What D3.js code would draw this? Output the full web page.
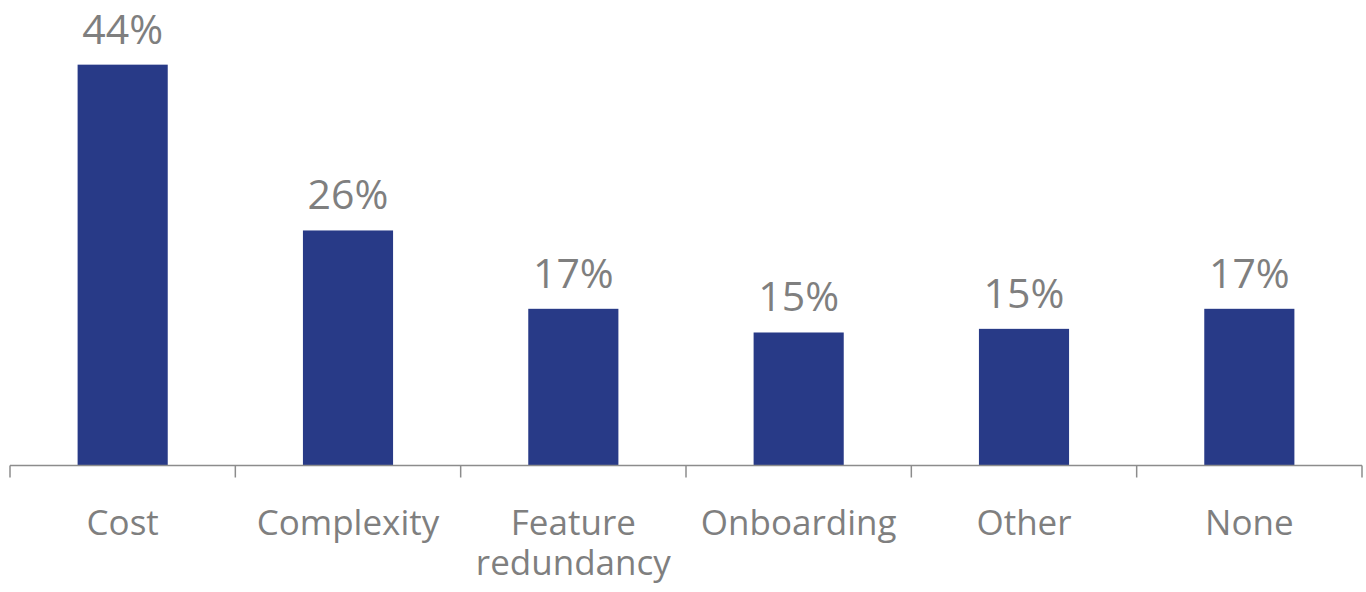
<!DOCTYPE html>
<html>
<head>
<meta charset="utf-8">
<script src="https://cdn.jsdelivr.net/npm/d3@7"></script>
<style>
	body { margin: 0; background: #fff; }
	#chart text { font-family: "Open Sans", "Noto Sans", sans-serif; fill: #7f7f7f; }
</style>
</head>
<body>
<div id="chart"></div>
<script>
const categories = ['Cost', 'Complexity', 'Feature redundancy', 'Onboarding', 'Other', 'None']
const values = [0.44, 0.258, 0.172, 0.146, 0.150, 0.172]
const value_labels = ['44%', '26%', '17%', '15%', '15%', '17%']

const width = 1366, height = 592
const margin = {top: 10, right: 4, bottom: 126.5, left: 10}
const baseline = height - margin.bottom

const x = d3.scaleBand()
	.domain(categories)
	.range([margin.left, width - margin.right])
	.paddingInner(0.6)
	.paddingOuter(0.3)
const y = d3.scaleLinear().domain([0, 0.5]).range([baseline, margin.top])

const svg = d3.select('#chart').append('svg')
	.attr('width', width)
	.attr('height', height)

// bars
svg.selectAll('rect.bar')
	.data(categories)
	.enter().append('rect')
	.attr('class', 'bar')
	.attr('x', d => x(d))
	.attr('width', x.bandwidth())
	.attr('y', (d, i) => y(values[i]))
	.attr('height', (d, i) => y(0) - y(values[i]))
	.attr('fill', '#283a87')

// value labels
svg.selectAll('text.value')
	.data(categories)
	.enter().append('text')
	.attr('class', 'value')
	.attr('x', d => x(d) + x.bandwidth() / 2)
	.attr('y', (d, i) => y(values[i]) - 21)
	.attr('text-anchor', 'middle')
	.style('font-size', '41px')
	.text((d, i) => value_labels[i])

// axis line with ticks between categories
const axis = svg.append('g').attr('class', 'x axis')
const edges = categories.map(d => x(d) - x.step() * x.paddingOuter())
edges.push(width - margin.right)
axis.append('line')
	.attr('x1', margin.left).attr('x2', width - margin.right)
	.attr('y1', baseline).attr('y2', baseline)
	.attr('stroke', '#8c8c8c').attr('stroke-width', 1.5)
axis.selectAll('line.tick')
	.data(edges)
	.enter().append('line')
	.attr('class', 'tick')
	.attr('x1', d => d).attr('x2', d => d)
	.attr('y1', baseline).attr('y2', baseline + 12)
	.attr('stroke', '#8c8c8c').attr('stroke-width', 1.5)

// category labels, wrapped on two lines where needed
const cat_labels = axis.selectAll('text.name')
	.data(categories)
	.enter().append('text')
	.attr('class', 'name')
	.attr('text-anchor', 'middle')
	.attr('y', baseline + 69)
	.style('font-size', '35px')
cat_labels.each(function(d) {
	const words = d.split(' ')
	const el = d3.select(this)
	words.forEach((w, i) => {
		el.append('tspan')
			.attr('x', x(d) + x.bandwidth() / 2)
			.attr('dy', i ? 40 : 0)
			.text(w)
	})
})
</script>
</body>
</html>
